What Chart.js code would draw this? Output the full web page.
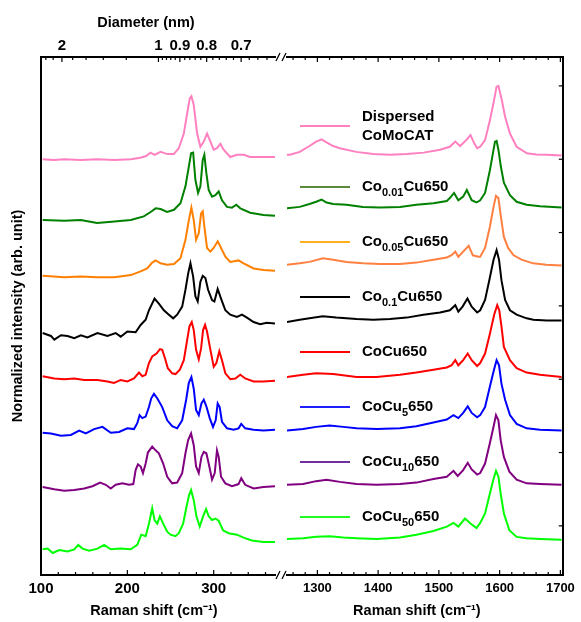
<!DOCTYPE html>
<html>
<head>
<meta charset="utf-8">
<script src="https://cdn.jsdelivr.net/npm/chart.js@4.4.0/dist/chart.umd.min.js"></script>
<style>
  body { margin: 0; background: #fff; }
  #wrap { position: relative; width: 581px; height: 622px; }
  #left { position: absolute; left: 0; top: 0; }
  #right { position: absolute; left: 280px; top: 0; }
</style>
</head>
<body>
<div id="wrap">
  <canvas id="left" width="290" height="622"></canvas>
  <canvas id="right" width="301" height="622"></canvas>
</div>
<script>
// ---- data ----
const seriesLabels = ['Dispersed|CoMoCAT', 'Co_{0.01}Cu650', 'Co_{0.05}Cu650', 'Co_{0.1}Cu650',
                      'CoCu650', 'CoCu_{5}650', 'CoCu_{10}650', 'CoCu_{50}650'];
const offsets = [5.25, 4.5, 3.75, 3.0, 2.25, 1.5, 0.75, 0];

const ramanTicksLow = [100, 200, 300];
const ramanMinorLow = [120, 140, 160, 180, 220, 240, 260, 280, 320, 340, 360];
const ramanTicksHigh = [1300, 1400, 1500, 1600, 1700];
const ramanMinorHigh = [1260, 1280, 1320, 1340, 1360, 1380, 1420, 1440, 1460, 1480,
                        1520, 1540, 1560, 1580, 1620, 1640, 1660, 1680];
const diameterLabels = [2, 1, 0.9, 0.8, 0.7];
const diameterMinor = [2.4, 2.2, 1.8, 1.6, 1.4, 1.2, 0.98, 0.96, 0.94, 0.92, 0.88, 0.86,
                       0.84, 0.82, 0.78, 0.76, 0.74, 0.72, 0.68, 0.66, 0.64];
const intensityTicks = [0.22, 1.22, 2.22, 3.22, 4.22, 5.22, 6.22];

// RBM region (cm-1, normalized intensity)
const rbmPink = [[101.9,-0.03],[115,-0.04],[127,-0.03],[146,-0.04],[165,-0.03],[185,-0.04],[204,-0.03],[215,-0.01],[221.2,0.01],[226.9,0.06],[231.5,0.03],[238.5,0.07],[246.2,0.04],[253.8,0.04],[259.6,0.12],[265.4,0.32],[269.2,0.59],[272.3,0.80],[274.2,0.83],[276.9,0.71],[280.8,0.32],[284.6,0.14],[288.5,0.21],[292.3,0.32],[296.2,0.21],[300,0.10],[303.8,0.12],[307.7,0.18],[311.5,0.10],[319.2,0.00],[327,0.03],[335,0.03],[342,0.00],[358,0.00],[371,0.00]];
const rbmGreen = [[101.9,-0.11],[127,-0.12],[146,-0.11],[165,-0.15],[185,-0.13],[204,-0.11],[219,-0.06],[227,0.00],[232.7,0.05],[238.5,0.04],[246,0.00],[254,0.03],[261.5,0.12],[267.3,0.35],[271.2,0.62],[273.8,0.80],[276.2,0.81],[278.8,0.44],[281.9,0.26],[284.6,0.35],[287.3,0.71],[289.2,0.78],[291.5,0.53],[294.2,0.30],[298.1,0.21],[301.9,0.23],[305.8,0.28],[309.6,0.16],[315.4,0.07],[321.2,0.06],[326.2,0.10],[330.8,0.05],[342.3,-0.01],[357.7,-0.04],[371,-0.05]];
const rbmOrange = [[101.9,-0.12],[127,-0.14],[146,-0.13],[165,-0.14],[185,-0.14],[204,-0.11],[215.4,-0.06],[223,-0.02],[228.8,0.06],[232.7,0.09],[238.5,0.05],[246,0.03],[254,0.04],[261.5,0.12],[267.3,0.37],[271.2,0.64],[274.2,0.81],[276.9,0.64],[279.6,0.37],[282.7,0.46],[285.4,0.73],[287.3,0.76],[289.2,0.55],[292.3,0.26],[296.2,0.21],[300,0.26],[304.6,0.35],[307.7,0.28],[313.5,0.14],[319.2,0.07],[328.8,0.09],[334.6,0.05],[346.2,-0.02],[357.7,-0.04],[371,-0.05]];
const rbmBlack = [[101.9,-0.15],[111.5,-0.19],[115.4,-0.24],[123.1,-0.18],[130.8,-0.19],[138.5,-0.22],[146.2,-0.18],[153.8,-0.21],[165.4,-0.15],[176.9,-0.19],[186.5,-0.15],[192.3,-0.20],[200,-0.13],[209.6,-0.14],[215.4,-0.04],[221.2,0.03],[225,0.16],[231.5,0.32],[236.5,0.25],[242.3,0.16],[248.1,0.10],[253.1,0.05],[257.7,0.10],[263.5,0.21],[267.3,0.44],[270.4,0.66],[273.1,0.80],[276.2,0.62],[278.8,0.35],[281.5,0.28],[284.6,0.55],[287.3,0.63],[290.4,0.60],[293.5,0.44],[298.1,0.30],[300.8,0.28],[304.6,0.45],[308.5,0.32],[313.5,0.16],[319.2,0.10],[326.9,0.07],[332.7,0.10],[338.5,0.06],[346.2,0.00],[353.8,-0.03],[361.5,-0.01],[371,-0.02]];
const rbmRed = [[101.9,0.01],[115.4,-0.02],[126.9,-0.03],[138.5,-0.02],[150,-0.04],[165.4,-0.04],[176.9,-0.06],[184.6,-0.08],[192.3,-0.04],[200,-0.06],[207.7,-0.02],[213.5,0.06],[217.3,0.01],[221.2,0.03],[225,0.19],[228.8,0.28],[233.8,0.32],[237.7,0.38],[240.4,0.37],[243.5,0.26],[246.9,0.12],[251.9,0.05],[255.8,0.04],[260.8,0.10],[265.4,0.23],[269.2,0.50],[271.9,0.69],[274.6,0.75],[276.9,0.64],[279.6,0.37],[282.7,0.24],[285.4,0.39],[287.7,0.64],[290,0.71],[292.3,0.62],[296.2,0.37],[300,0.14],[303.1,0.19],[306.5,0.35],[309.6,0.23],[313.5,0.05],[319.2,-0.03],[325,-0.02],[330.8,0.03],[336.5,-0.02],[346.2,-0.06],[357.7,-0.06],[371,-0.05]];
const rbmBlue = [[101.9,-0.01],[111.5,-0.02],[123.1,-0.05],[134.6,-0.04],[144.2,0.02],[151.9,-0.02],[161.5,0.04],[171.2,0.07],[180.8,-0.01],[190.4,0.00],[200,0.05],[207.7,0.04],[211.5,0.12],[214.2,0.23],[217.3,0.19],[221.2,0.21],[225,0.34],[227.7,0.46],[230.8,0.52],[234.6,0.46],[240.4,0.34],[246.2,0.16],[251.9,0.08],[257.7,0.05],[263.5,0.16],[268.1,0.44],[271.2,0.67],[274.2,0.75],[276.9,0.59],[279.6,0.30],[282.7,0.23],[285.8,0.39],[288.5,0.44],[291.5,0.35],[295.4,0.19],[299.2,0.07],[302.3,0.16],[304.6,0.39],[306.9,0.34],[309.6,0.14],[315.4,0.05],[323.1,0.03],[328.8,0.05],[331.9,0.11],[336.5,0.05],[346.2,0.03],[357.7,0.02],[371,0.03]];
const rbmPurple = [[101.9,0.00],[115.4,-0.03],[126.9,-0.05],[138.5,-0.04],[150,-0.02],[159.6,0.01],[168.5,0.06],[175,0.03],[180.8,-0.02],[186.5,0.03],[194.2,0.05],[201.9,0.03],[206.9,0.04],[209.6,0.23],[212.3,0.31],[215.4,0.28],[218.1,0.19],[221.2,0.32],[223.8,0.47],[228.8,0.55],[232.7,0.50],[236.5,0.46],[241.5,0.32],[246.2,0.14],[251.9,0.05],[257.7,0.06],[263.5,0.19],[267.3,0.46],[270.4,0.64],[273.8,0.73],[276.9,0.57],[279.6,0.28],[282.7,0.19],[285.8,0.41],[288.5,0.48],[291.5,0.46],[294.2,0.32],[298.1,0.10],[301.2,0.19],[303.8,0.50],[305.8,0.41],[308.5,0.14],[313.5,0.05],[321.2,0.01],[328.8,0.04],[331.9,0.12],[336.5,0.03],[346.2,-0.02],[357.7,0.00],[371,0.01]];
const rbmLime = [[101.9,-0.10],[107.7,-0.09],[113.5,-0.15],[121.2,-0.11],[130.8,-0.13],[138.5,-0.10],[143.1,-0.04],[148.1,-0.09],[155.8,-0.12],[165.4,-0.09],[173.1,-0.04],[180.8,-0.10],[192.3,-0.09],[203.8,-0.10],[211.5,-0.04],[216.2,0.10],[221.2,0.08],[225,0.25],[228.8,0.46],[231.5,0.30],[234.6,0.25],[237.7,0.35],[241.5,0.25],[246.2,0.14],[250,0.10],[255.8,0.08],[259.6,0.12],[264.6,0.25],[268.5,0.48],[271.5,0.64],[273.8,0.71],[276.9,0.57],[280,0.35],[283.8,0.21],[287.7,0.35],[291.2,0.45],[294.2,0.35],[298.1,0.30],[301.9,0.32],[305.8,0.29],[310.8,0.16],[317.3,0.12],[326.9,0.10],[334.6,0.06],[344.2,0.02],[357.7,0.00],[371,0.00]];

// D / G band region (cm-1, normalized intensity)
const gPink = [[1250,0.03],[1255,0.03],[1271,0.07],[1287,0.15],[1298,0.21],[1307,0.24],[1315,0.20],[1326,0.15],[1337,0.12],[1364,0.07],[1392,0.04],[1420,0.03],[1447,0.04],[1475,0.06],[1502,0.10],[1518,0.14],[1527,0.21],[1535,0.15],[1545,0.23],[1552,0.30],[1558,0.19],[1563,0.12],[1568,0.14],[1576,0.23],[1584,0.50],[1590,0.74],[1595,0.96],[1598,0.97],[1603.5,0.78],[1609,0.55],[1617,0.32],[1628,0.14],[1645,0.05],[1660,0.035],[1678,0.03],[1702,0.02]];
const gGreen = [[1250,0.05],[1271,0.07],[1287,0.11],[1298,0.14],[1307,0.17],[1315,0.13],[1326,0.11],[1348,0.10],[1375,0.07],[1403,0.06],[1436,0.07],[1463,0.10],[1491,0.12],[1513,0.15],[1518,0.19],[1525,0.26],[1532,0.16],[1540,0.21],[1546,0.30],[1554,0.16],[1562,0.13],[1568,0.16],[1576,0.26],[1584,0.57],[1590,0.85],[1592.4,0.96],[1595,0.97],[1598,0.85],[1602,0.62],[1607,0.40],[1617,0.23],[1628,0.14],[1644.5,0.10],[1666.5,0.08],[1702,0.06]];
const gOrange = [[1250,0.03],[1271,0.05],[1287,0.07],[1309,0.12],[1326,0.10],[1348,0.07],[1375,0.05],[1403,0.04],[1436,0.04],[1463,0.06],[1491,0.10],[1513,0.13],[1521,0.16],[1527,0.21],[1532,0.14],[1540,0.21],[1549,0.29],[1556,0.16],[1565,0.14],[1568,0.14],[1576,0.26],[1584,0.55],[1590,0.82],[1594,0.97],[1598,0.94],[1602,0.69],[1607,0.41],[1614,0.26],[1623,0.16],[1636,0.10],[1655,0.05],[1677,0.03],[1702,0.02]];
const gBlack = [[1250,0.00],[1271,0.03],[1287,0.05],[1309,0.08],[1331,0.06],[1364.5,0.04],[1392,0.03],[1419.5,0.04],[1447,0.06],[1474.5,0.10],[1502,0.13],[1518,0.16],[1527,0.23],[1532,0.14],[1539,0.21],[1547,0.32],[1554,0.21],[1563,0.13],[1568,0.16],[1576,0.30],[1583,0.57],[1590,0.85],[1595,0.98],[1599,0.85],[1603,0.57],[1609,0.30],[1617,0.16],[1628,0.10],[1644.5,0.05],[1655.5,0.03],[1677.5,0.02],[1702,0.02]];
const gRed = [[1250,0.00],[1276.5,0.03],[1298,0.05],[1326,0.04],[1364.5,0.00],[1397.5,0.00],[1436,0.03],[1463,0.06],[1491,0.10],[1513,0.13],[1521,0.16],[1527,0.23],[1532,0.16],[1540,0.23],[1547.5,0.32],[1554,0.23],[1563,0.15],[1568,0.19],[1576,0.32],[1584,0.59],[1591,0.85],[1596,0.98],[1599.4,0.91],[1603,0.69],[1607,0.41],[1617,0.23],[1628,0.12],[1644.5,0.06],[1666.5,0.03],[1702,0.00]];
const gBlue = [[1250,0.02],[1276.5,0.04],[1298,0.07],[1320,0.09],[1342.6,0.07],[1364.5,0.05],[1397.5,0.04],[1436,0.05],[1463,0.08],[1491,0.13],[1513,0.17],[1524,0.23],[1532,0.19],[1540,0.26],[1547.5,0.35],[1554,0.26],[1563,0.20],[1568,0.23],[1576,0.34],[1584,0.62],[1590.7,0.85],[1595,0.98],[1599,0.91],[1603,0.66],[1609,0.44],[1617,0.23],[1628,0.11],[1644.5,0.05],[1666.5,0.03],[1702,0.02]];
const gPurple = [[1250,0.03],[1276.5,0.04],[1298,0.08],[1315,0.10],[1337,0.07],[1364.5,0.04],[1397.5,0.03],[1436,0.04],[1463,0.06],[1491,0.11],[1513,0.14],[1524,0.22],[1531,0.15],[1540,0.23],[1547.5,0.33],[1554,0.24],[1563,0.17],[1568,0.19],[1576,0.32],[1584,0.60],[1590.7,0.85],[1594,0.98],[1598,0.91],[1601.7,0.64],[1607,0.41],[1616,0.21],[1628,0.10],[1644.5,0.05],[1666.5,0.04],[1702,0.03]];
const gLime = [[1250,0.04],[1276.5,0.05],[1298,0.07],[1320,0.08],[1342.6,0.06],[1364.5,0.05],[1397.5,0.04],[1436,0.06],[1463,0.10],[1491,0.15],[1513,0.21],[1524,0.26],[1532,0.21],[1543,0.32],[1551,0.26],[1562,0.19],[1568,0.26],[1576,0.39],[1584,0.66],[1589.6,0.85],[1594,0.97],[1598,0.89],[1601.7,0.66],[1607,0.39],[1616,0.16],[1628,0.07],[1644.5,0.05],[1666.5,0.04],[1702,0.03]];

const rbmSets = [rbmPink, rbmGreen, rbmOrange, rbmBlack, rbmRed, rbmBlue, rbmPurple, rbmLime];
const gSets = [gPink, gGreen, gOrange, gBlack, gRed, gBlue, gPurple, gLime];

// ---- styles ----
const rbmColors = ['#ff80c0', '#008000', '#ff8000', '#000000', '#ff0000', '#0000ff', '#800080', '#00ff00'];
const gColors = ['#ff80c0', '#008000', '#ff8040', '#000000', '#ff0000', '#0000ff', '#800080', '#00ff00'];
const legendColors = ['#ff80c0', '#5b8a3a', '#ffb020', '#000000', '#ff0000', '#2020ff', '#7030a0', '#20ff20'];

const FONT = '"Liberation Sans", Arial, sans-serif';
const tickFont = { family: FONT, size: 15, weight: 'bold' };
const smallTickFont = { family: FONT, size: 13, weight: 'bold' };
const titleFont = { family: FONT, size: 14.5, weight: 'bold' };

// diameter (nm) -> RBM frequency (cm-1)
const dToRaman = d => 223.5 / d + 12.5;

function setTicks(values) {
    return s => { s.ticks = values.map(v => ({ value: v })); };
}

function toPoints(set, off) {
    return set.map(p => ({ x: p[0], y: p[1] + off }));
}

// inward ticks + axis break marks
const frame = {
    id: 'frame',
    afterDraw(chart, args, o) {
        const ctx = chart.ctx, a = chart.chartArea;
        ctx.save();
        ctx.strokeStyle = '#000';
        ctx.lineWidth = 1.2;
        (o.ticks || []).forEach(t => {
            const s = chart.scales[t.scale];
            t.values.forEach(v => {
                const p = s.getPixelForValue(v);
                ctx.beginPath();
                if (t.side === 'bottom') { ctx.moveTo(p, a.bottom); ctx.lineTo(p, a.bottom - t.len); }
                else if (t.side === 'top') { ctx.moveTo(p, a.top); ctx.lineTo(p, a.top + t.len); }
                else { ctx.moveTo(a.right, p); ctx.lineTo(a.right - t.len, p); }
                ctx.stroke();
            });
        });
        if (o.brk) {
            const x = o.brk === 'right' ? a.right + 3 : a.left - 3;
            [a.top, a.bottom].forEach(y => {
                ctx.beginPath();
                ctx.moveTo(x - 2, y + 4);
                ctx.lineTo(x + 2, y - 4);
                ctx.stroke();
            });
        }
        ctx.restore();
    }
};

function drawRich(ctx, text, x, y) {
    const parts = text.split(/_\{|\}/);
    ctx.textBaseline = 'middle';
    ctx.textAlign = 'left';
    ctx.fillStyle = '#000';
    parts.forEach((p, k) => {
        const sub = k % 2 === 1;
        ctx.font = sub ? 'bold 11px ' + FONT : 'bold 15px ' + FONT;
        ctx.fillText(p, x, sub ? y + 6 : y);
        x += ctx.measureText(p).width;
    });
}

// legend entries sitting next to each trace
const sideLegend = {
    id: 'sideLegend',
    afterDatasetsDraw(chart) {
        const ctx = chart.ctx, a = chart.chartArea, ys = chart.scales.y;
        ctx.save();
        seriesLabels.forEach((lab, i) => {
            const lines = lab.split('|');
            const ly = ys.getPixelForValue(offsets[i]) - (lines.length > 1 ? 31 : 25);
            ctx.strokeStyle = legendColors[i];
            ctx.lineWidth = 2;
            ctx.beginPath();
            ctx.moveTo(a.left + 13, ly);
            ctx.lineTo(a.left + 63, ly);
            ctx.stroke();
            lines.forEach((ln, j) => drawRich(ctx, ln, a.left + 75, ly + (j - (lines.length - 1) / 2) * 19));
        });
        ctx.restore();
    }
};

const yMin = -0.45, yMax = 6.614;

function lineSets(sets, colors) {
    return sets.map((d, i) => ({
        data: toPoints(d, offsets[i]),
        borderColor: colors[i],
        borderWidth: 2,
        pointRadius: 0,
        tension: 0,
        fill: false
    }));
}

// ---- left panel: RBM ----
new Chart(document.getElementById('left'), {
    type: 'line',
    data: { datasets: lineSets(rbmSets, rbmColors) },
    options: {
        responsive: false,
        animation: false,
        devicePixelRatio: 1,
        layout: { padding: { left: 0, right: 15, top: 0, bottom: 0 } },
        plugins: {
            legend: { display: false },
            tooltip: { enabled: false },
            frame: {
                brk: 'right',
                ticks: [
                    { scale: 'x', side: 'bottom', values: ramanTicksLow, len: 5 },
                    { scale: 'x', side: 'bottom', values: ramanMinorLow, len: 3 },
                    { scale: 'xTop', side: 'top', values: diameterLabels.map(dToRaman), len: 5 },
                    { scale: 'xTop', side: 'top', values: diameterMinor.map(dToRaman), len: 3 }
                ]
            }
        },
        scales: {
            x: {
                type: 'linear', position: 'bottom', min: 100, max: 371,
                afterBuildTicks: setTicks(ramanTicksLow),
                afterFit: s => { s.height = 47; },
                grid: { display: false, drawTicks: false },
                border: { color: '#000', width: 2 },
                ticks: { font: tickFont, color: '#000', padding: 5, maxRotation: 0, autoSkip: false, callback: v => String(v) },
                title: { display: true, text: 'Raman shift (cm⁻¹)  ', font: titleFont, color: '#000', padding: { top: 0, bottom: 2 } }
            },
            xTop: {
                type: 'linear', axis: 'x', position: 'top', min: 100, max: 371,
                afterBuildTicks: setTicks(diameterLabels.map(dToRaman)),
                afterFit: s => { s.height = 57; },
                grid: { display: false, drawTicks: false },
                border: { color: '#000', width: 2 },
                ticks: {
                    font: tickFont, color: '#000', padding: 2, maxRotation: 0, minRotation: 0, autoSkip: false,
                    callback: (v, i) => String(diameterLabels[i])
                },
                title: { display: true, text: 'Diameter (nm)      ', font: titleFont, color: '#000', padding: { top: 14, bottom: 0 } }
            },
            y: {
                type: 'linear', position: 'left', min: yMin, max: yMax,
                afterFit: s => { s.width = 41; },
                grid: { display: false, drawTicks: false },
                border: { color: '#000', width: 2 },
                ticks: { display: false },
                title: { display: true, text: 'Normalized intensity (arb. unit)', font: titleFont, color: '#000', padding: { top: 9, bottom: 0 } }
            }
        }
    },
    plugins: [frame]
});

// ---- right panel: D and G bands ----
new Chart(document.getElementById('right'), {
    type: 'line',
    data: { datasets: lineSets(gSets, gColors) },
    options: {
        responsive: false,
        animation: false,
        devicePixelRatio: 1,
        layout: { padding: { left: 7, right: 0, top: 0, bottom: 0 } },
        plugins: {
            legend: { display: false },
            tooltip: { enabled: false },
            frame: {
                brk: 'left',
                ticks: [
                    { scale: 'x', side: 'bottom', values: ramanTicksHigh, len: 5 },
                    { scale: 'x', side: 'bottom', values: ramanMinorHigh, len: 3 },
                    { scale: 'x', side: 'top', values: ramanTicksHigh, len: 5 },
                    { scale: 'x', side: 'top', values: ramanMinorHigh, len: 3 },
                    { scale: 'y', side: 'right', values: intensityTicks, len: 4 }
                ]
            }
        },
        scales: {
            x: {
                type: 'linear', position: 'bottom', min: 1250, max: 1704,
                afterBuildTicks: setTicks(ramanTicksHigh),
                afterFit: s => { s.height = 47; },
                grid: { display: false, drawTicks: false },
                border: { color: '#000', width: 2 },
                ticks: { font: smallTickFont, color: '#000', padding: 6, maxRotation: 0, autoSkip: false, callback: v => String(v) },
                title: { display: true, text: 'Raman shift (cm⁻¹)    ', font: titleFont, color: '#000', padding: { top: 0, bottom: 2 } }
            },
            xTop: {
                type: 'linear', axis: 'x', position: 'top', min: 1250, max: 1704,
                afterFit: s => { s.height = 57; },
                grid: { display: false, drawTicks: false },
                border: { color: '#000', width: 2 },
                ticks: { display: false }
            },
            y: {
                type: 'linear', position: 'right', min: yMin, max: yMax,
                afterFit: s => { s.width = 18; },
                grid: { display: false, drawTicks: false },
                border: { color: '#000', width: 2 },
                ticks: { display: false }
            }
        }
    },
    plugins: [frame, sideLegend]
});
</script>
</body>
</html>
